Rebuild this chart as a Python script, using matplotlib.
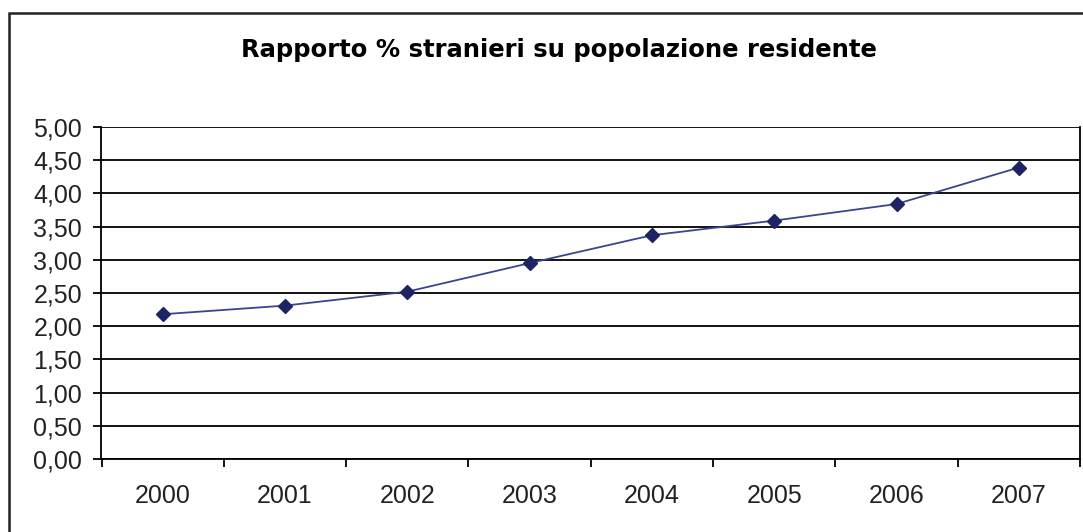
import numpy as np
import matplotlib.pyplot as plt
from matplotlib.patches import Rectangle
from matplotlib.ticker import FixedLocator, FuncFormatter

plt.rcParams['font.family'] = ['Liberation Sans', 'DejaVu Sans']

anni = ['2000', '2001', '2002', '2003', '2004', '2005', '2006', '2007']
rapporto = [2.18, 2.31, 2.52, 2.95, 3.37, 3.59, 3.84, 4.39]

W, H = 1083, 532
fig = plt.figure(figsize=(W / 100, H / 100), dpi=100)

# cornice esterna del grafico
fig.patches.append(Rectangle((8.5 / W, -0.1), 1.2, 1 - 12.5 / H + 0.1,
                             transform=fig.transFigure, fill=False,
                             edgecolor='#222222', linewidth=1.8))

ax = fig.add_axes([101.5 / W, 1 - 459 / H, (1080 - 101.5) / W, (459 - 127) / H])

x = np.arange(len(anni))
ax.plot(x, rapporto, color='#3a4590', linewidth=1.3, zorder=3)
ax.plot(x, rapporto, linestyle='none', marker='D', markersize=7,
        color='#1c2466', zorder=4)

ax.set_xlim(-0.5, len(anni) - 0.5)
ax.set_ylim(0, 5)

ax.yaxis.set_major_locator(FixedLocator(np.arange(0, 5.01, 0.5)))
ax.yaxis.set_major_formatter(FuncFormatter(lambda v, p: f'{v:.2f}'.replace('.', ',')))
ax.grid(axis='y', color='black', linewidth=1.3)

ax.xaxis.set_major_locator(FixedLocator(np.arange(-0.5, len(anni), 1.0)))
ax.xaxis.set_major_formatter(FuncFormatter(lambda v, p: ''))
ax.xaxis.set_minor_locator(FixedLocator(x))
ax.set_xticks(x, anni, minor=True)
ax.tick_params(axis='x', which='minor', length=0, pad=18, labelsize=18, colors='#222222')
ax.tick_params(axis='x', which='major', direction='out', length=6, width=1.3)
ax.tick_params(axis='y', direction='out', length=6, width=1.3, pad=8, labelsize=18,
               labelcolor='#222222')

for s in ax.spines.values():
    s.set_linewidth(1.3)
    s.set_color('black')
ax.spines['top'].set_visible(False)

fig.text(559 / W, 1 - 50 / H, 'Rapporto % stranieri su popolazione residente',
         ha='center', va='center', fontsize=17.5, fontweight='bold', color='black',
         family='DejaVu Sans')

fig.savefig('out.png', dpi=100)
